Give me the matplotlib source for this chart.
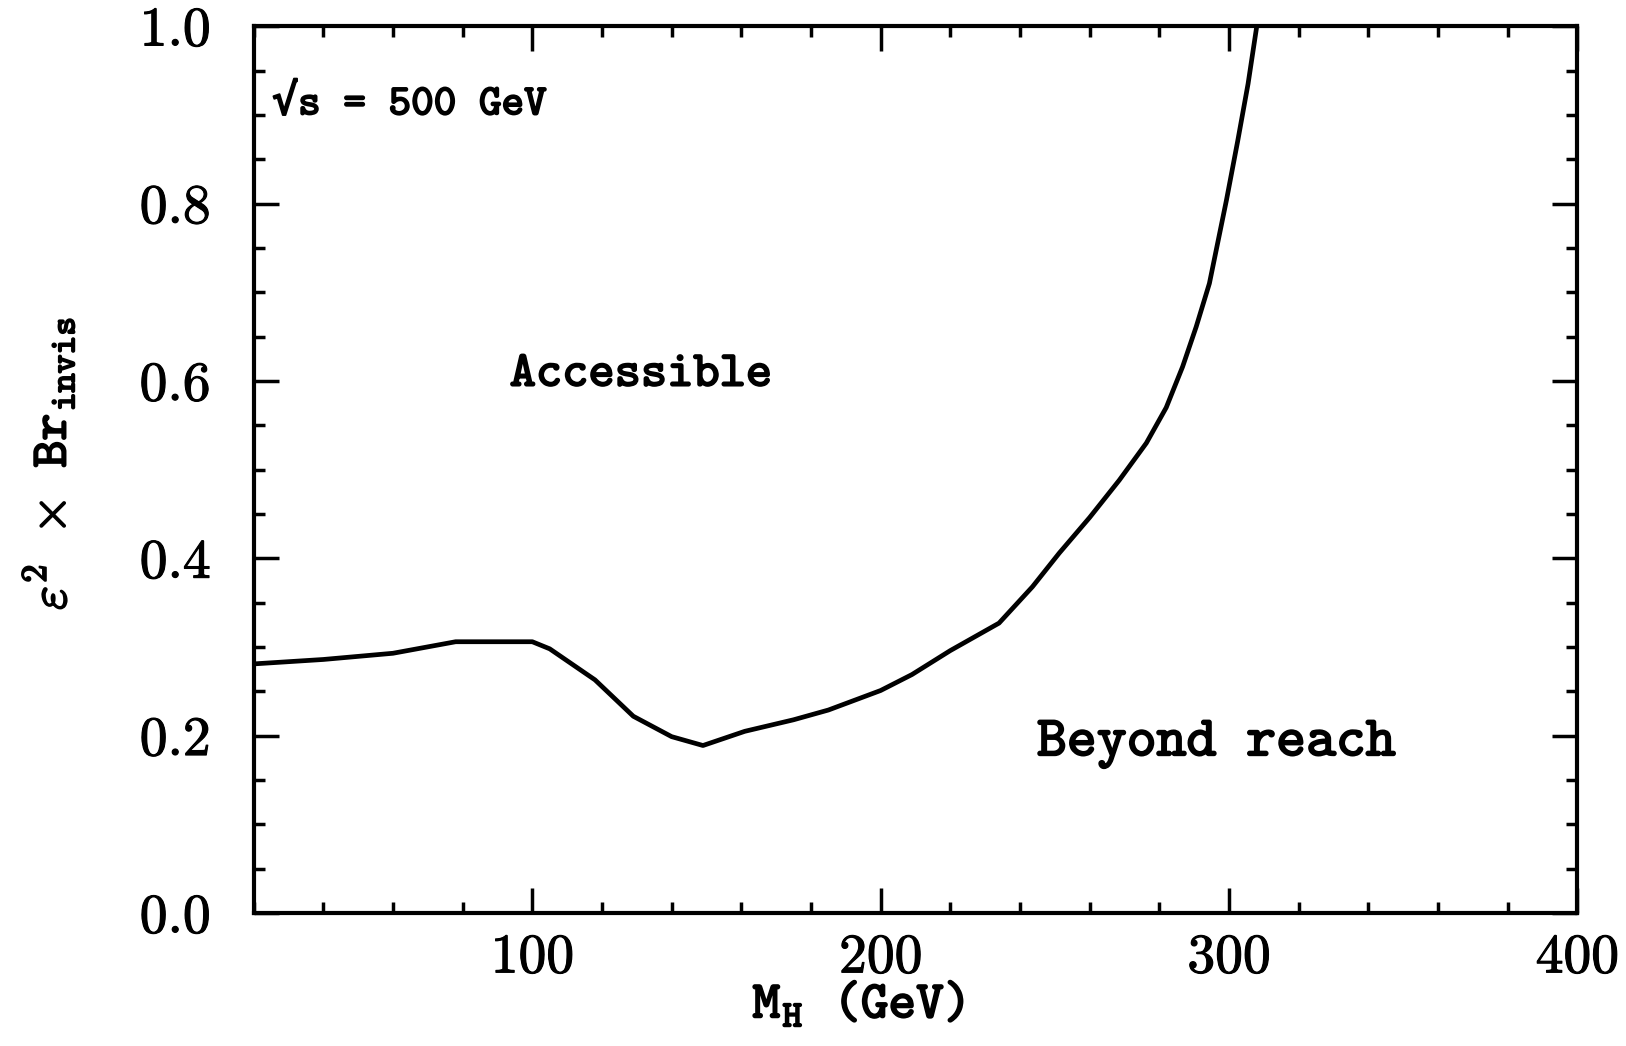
import numpy as np
import matplotlib
matplotlib.use("Agg")
import matplotlib.pyplot as plt
import matplotlib.patheffects as pe
from matplotlib.ticker import MultipleLocator, FormatStrFormatter

plt.rcParams['mathtext.fontset'] = 'cm'
plt.rcParams['font.family'] = ['cmr10', 'DejaVu Serif']
plt.rcParams['axes.formatter.use_mathtext'] = True

# reach curve
mh = [20, 40, 60, 78, 100, 105, 118, 129, 140, 149, 161, 175, 185, 200, 209, 220,
      234, 243.6, 251.3, 260, 268.5, 276.3, 282, 286.7, 290.6, 294.4, 299.3, 302.5,
      305.5, 308]
reach = [0.281, 0.286, 0.293, 0.306, 0.306, 0.298, 0.263, 0.222, 0.199, 0.189,
         0.205, 0.218, 0.229, 0.251, 0.269, 0.296, 0.327, 0.368, 0.406, 0.446,
         0.488, 0.530, 0.570, 0.616, 0.661, 0.710, 0.804, 0.870, 0.935, 1.000]

bold = [pe.withStroke(linewidth=1.3, foreground='black')]
tt = ['cmtt10', 'DejaVu Sans Mono']

fig = plt.figure(figsize=(16.26, 10.46), dpi=100)
ax = fig.add_axes([0.156, 0.127, 0.814, 0.848])

ax.plot(mh, reach, color='black', lw=3.4, solid_joinstyle='round')

ax.set_xlim(20, 400)
ax.set_ylim(0, 1.0)
ax.xaxis.set_major_locator(MultipleLocator(100))
ax.xaxis.set_minor_locator(MultipleLocator(20))
ax.yaxis.set_major_locator(MultipleLocator(0.2))
ax.yaxis.set_minor_locator(MultipleLocator(0.05))
ax.yaxis.set_major_formatter(FormatStrFormatter('%.1f'))

ax.tick_params(which='both', direction='in', top=True, right=True, width=2.5)
ax.tick_params(which='major', length=18, labelsize=40)
ax.tick_params(which='minor', length=8)
ax.tick_params(axis='y', which='major', pad=31)
ax.tick_params(axis='x', which='major', pad=15)
for s in ax.spines.values():
    s.set_linewidth(3.0)
for lbl in ax.get_xticklabels() + ax.get_yticklabels():
    lbl.set_path_effects([pe.withStroke(linewidth=0.8, foreground='black')])

ax.set_xlabel(r'M$_\mathtt{H}$ (GeV)', fontsize=38, family=tt, path_effects=bold)
ax.xaxis.set_label_coords(0.457, -0.075)
ax.xaxis.label.set_va('top')
ax.set_ylabel(r'$\varepsilon^\mathtt{2}$ $\times$ Br$_\mathtt{invis}$', fontsize=37,
              family=tt, path_effects=bold)
ax.yaxis.set_label_coords(-0.133, 0.507)

ax.text(0.014, 0.91, '\u221as = 500 GeV', transform=ax.transAxes,
        fontsize=31, family=tt, ha='left', va='center', path_effects=bold)
ax.text(93.5, 0.606, 'Accessible', fontsize=36, family=tt, ha='left', va='center',
        path_effects=bold)
ax.text(296.4, 0.178, 'Beyond reach', fontsize=41, family=tt, ha='center',
        va='baseline', path_effects=bold)

fig.savefig('out.png', dpi=100)
